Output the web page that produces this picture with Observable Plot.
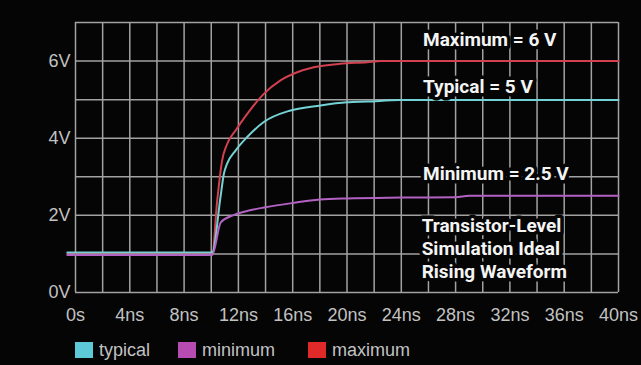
<!DOCTYPE html>
<html>
<head>
<meta charset="utf-8">
<script src="https://cdn.jsdelivr.net/npm/d3@7"></script>
<script src="https://cdn.jsdelivr.net/npm/@observablehq/plot@0.6"></script>
<style>
  html, body { margin: 0; padding: 0; background: #050505; }
  #chart { width: 641px; }
  .legend { display: flex; align-items: center; height: 30px; padding-left: 75px;
            font-family: "Liberation Sans", Arial, sans-serif; font-size: 18px; color: #c2c2c2; }
  .legend .item { display: flex; align-items: center; }
  .legend .item:nth-child(1) { width: 103px; }
  .legend .item:nth-child(2) { width: 130px; }
  .legend .sw { width: 18px; height: 16px; margin-right: 6px; }
</style>
</head>
<body>
<div id="chart"></div>
<script>
// Series names and colours (legend order)
const seriesNames = ["typical", "minimum", "maximum"];
const lineColors = ["#74d2d4", "#b262c2", "#d2414f"];
const swatchColors = ["#5cc8d8", "#b64cb2", "#e02a2a"];

// Time (ns) and voltage (V) samples for each waveform
const maximumT = [-0.6, 10.07, 10.44, 10.8, 11.17, 11.79, 12.65, 13.87, 15.1, 16.33, 17.55, 19.5, 21.5, 22.5, 40];
const maximumV = [1.0, 1.0, 2.39, 3.42, 3.85, 4.2, 4.63, 5.15, 5.5, 5.71, 5.84, 5.93, 5.97, 6.0, 6.0];

const typicalT = [-0.6, 10.07, 10.68, 10.93, 11.17, 11.79, 12.65, 13.87, 15.84, 18.05, 20.0, 21.5, 23.9, 40];
const typicalV = [1.04, 1.04, 2.47, 3.08, 3.34, 3.68, 4.03, 4.42, 4.72, 4.85, 4.93, 4.95, 4.99, 4.99];

const minimumT = [-0.6, 10.07, 10.7, 11.6, 12.5, 14.0, 16.0, 18.0, 20.0, 24.0, 28.0, 29.0, 40];
const minimumV = [0.97, 0.97, 1.82, 2.0, 2.1, 2.21, 2.32, 2.41, 2.44, 2.46, 2.47, 2.51, 2.51];

// Axis ticks
const xTicks = [0, 4, 8, 12, 16, 20, 24, 28, 32, 36, 40];
const yTicks = [0, 2, 4, 6];
const xGrid = d3.range(0, 41, 2);
const yGrid = d3.range(0, 8, 1);

// Text notes placed inside the plot (time, voltage, text)
const noteT = [25.6, 25.6, 25.6, 25.5];
const noteV = [6.59, 5.37, 3.11, 1.17];
const noteText = [
  "Maximum = 6 V",
  "Typical = 5 V",
  "Minimum = 2.5 V",
  "Transistor-Level\nSimulation Ideal\nRising Waveform"
];

const toRows = (name, ts, vs) => ts.map((t, i) => ({series: name, t, v: vs[i]}));
const rows = [
  ...toRows("maximum", maximumT, maximumV),
  ...toRows("typical", typicalT, typicalV),
  ...toRows("minimum", minimumT, minimumV)
];
const notes = noteText.map((text, i) => ({t: noteT[i], v: noteV[i], text}));

const chart = Plot.plot({
  width: 641,
  height: 335,
  marginLeft: 75,
  marginRight: 23,
  marginTop: 22,
  marginBottom: 43,
  style: {
    background: "#050505",
    color: "#c2c2c2",
    fontFamily: "'Liberation Sans', Arial, sans-serif",
    fontSize: "18px"
  },
  x: {domain: [0, 40], ticks: xTicks, tickFormat: d => d === 0 ? "0s" : `${d}ns`, tickSize: 0, tickPadding: 16, label: null},
  y: {domain: [0, 7], ticks: yTicks, tickFormat: d => `${d}V`, tickSize: 0, tickPadding: 5, label: null},
  color: {domain: seriesNames, range: lineColors},
  marks: [
    Plot.gridX(xGrid, {stroke: "#a2a2a2", strokeOpacity: 1, strokeWidth: 1.5}),
    Plot.gridY(yGrid, {stroke: "#a2a2a2", strokeOpacity: 1, strokeWidth: 1.5}),
    Plot.line(rows, {x: "t", y: "v", z: "series", stroke: "series", strokeWidth: 2, curve: "monotone-x"}),
    Plot.text(notes, {
      x: "t", y: "v", text: "text",
      textAnchor: "start", lineAnchor: "middle", lineHeight: 1.22,
      fill: "#f4f4f4", stroke: "#050505", strokeWidth: 7,
      fontWeight: 700, fontSize: 19, fontFamily: "Roboto, 'Liberation Sans', sans-serif"
    })
  ]
});
document.getElementById("chart").append(chart);

// Legend row below the chart
const legend = document.createElement("div");
legend.className = "legend";
seriesNames.forEach((name, i) => {
  const item = document.createElement("div");
  item.className = "item";
  const sw = document.createElement("span");
  sw.className = "sw";
  sw.style.background = swatchColors[i];
  const label = document.createElement("span");
  label.textContent = name;
  item.append(sw, label);
  legend.append(item);
});
document.getElementById("chart").append(legend);
</script>
</body>
</html>
